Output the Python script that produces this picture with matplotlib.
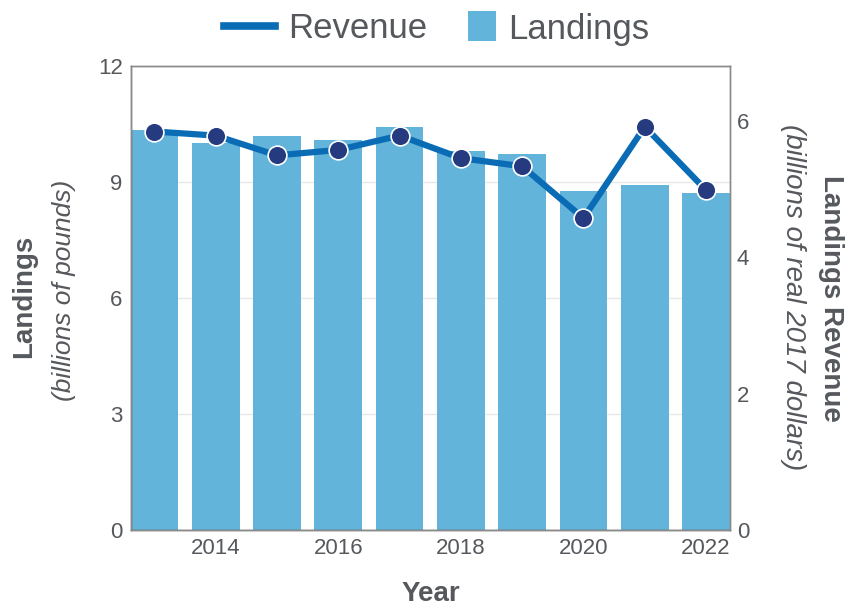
import numpy as np
import matplotlib.pyplot as plt
from matplotlib.lines import Line2D
from matplotlib.patches import Patch, Rectangle
from matplotlib.legend_handler import HandlerPatch

plt.rcParams['font.family'] = ['Liberation Sans', 'DejaVu Sans']

# Data
years = [2013, 2014, 2015, 2016, 2017, 2018, 2019, 2020, 2021, 2022]
landings = [10.34, 10.0, 10.2, 10.09, 10.41, 9.79, 9.72, 8.77, 8.91, 8.71]
revenue = [5.84, 5.78, 5.49, 5.57, 5.78, 5.45, 5.33, 4.57, 5.91, 4.98]
xticks = [2014, 2016, 2018, 2020, 2022]

TEXT = '#55585c'
BAR = '#62b4da'
LINE = '#0a6cb5'
DOT = '#263a80'


def square_patch(legend, orig_handle, xdescent, ydescent, width, height, fontsize):
    # narrow square swatch, right-aligned in the handle box
    w, h = 20.0, 21.5
    return Rectangle((-xdescent + width - w, -ydescent + height / 2 - h / 2), w, h)


fig = plt.figure(figsize=(8.61, 6.10), dpi=100)
ax = fig.add_axes([131 / 861, 1 - 530 / 610, 599 / 861, 464 / 610])
ax2 = ax.twinx()

ax.bar(years, landings, width=0.78, color=BAR, zorder=2)
ax.set_ylim(0, 12)
ax.set_yticks([0, 3, 6, 9, 12])
ax.set_xlim(2012.62, 2022.39)
ax.set_xticks(xticks)
ax.grid(axis='y', color='#e8e8e8', linewidth=1, zorder=0)
ax.set_axisbelow(True)

ax2.plot(years, revenue, color=LINE, linewidth=4.5, zorder=3)
ax2.plot(years, revenue, linestyle='none', marker='o', markersize=13.5,
         markerfacecolor=DOT, markeredgecolor='white', markeredgewidth=1.2, zorder=4)
ax2.set_ylim(0, 6.8)
ax2.set_yticks([0, 2, 4, 6])

for a in (ax, ax2):
    a.tick_params(length=0, labelsize=16, colors=TEXT, pad=6)
    for s in a.spines.values():
        s.set_color('#8a8a8a')
        s.set_linewidth(1)
ax.spines['left'].set_color('#555555')
ax.spines['bottom'].set_color('#555555')
ax.tick_params(axis='x', pad=6)
ax2.tick_params(axis='y', pad=5)

# axis titles
fig.text(24 / 861, 1 - 296 / 610, 'Landings', rotation=90, ha='center', va='center',
         fontsize=20, fontweight='bold', color=TEXT)
fig.text(64 / 861, 1 - 290 / 610, '(billions of pounds)', rotation=90, ha='center', va='center',
         fontsize=19, fontstyle='italic', color=TEXT)
fig.text(831 / 861, 1 - 298 / 610, 'Landings Revenue', rotation=270, ha='center', va='center',
         fontsize=20, fontweight='bold', color=TEXT)
fig.text(793 / 861, 1 - 297 / 610, '(billions of real 2017 dollars)', rotation=270,
         ha='center', va='center', fontsize=20, fontstyle='italic', color=TEXT)
fig.text(431 / 861, 1 - 594 / 610, 'Year', ha='center', va='center',
         fontsize=20, fontweight='bold', color=TEXT)

handles = [Line2D([0], [0], color=LINE, linewidth=5.5),
           Patch(facecolor=BAR, edgecolor='none')]
leg = fig.legend(handles, ['Revenue', 'Landings'], loc='center', ncol=2,
                 bbox_to_anchor=(437 / 861, 1 - 29 / 610), frameon=False,
                 fontsize=25, handlelength=1.47, handletextpad=0.37, columnspacing=0.5,
                 handler_map={Patch: HandlerPatch(patch_func=square_patch)})
for t in leg.get_texts():
    t.set_color(TEXT)

fig.savefig('out.png', dpi=100)
